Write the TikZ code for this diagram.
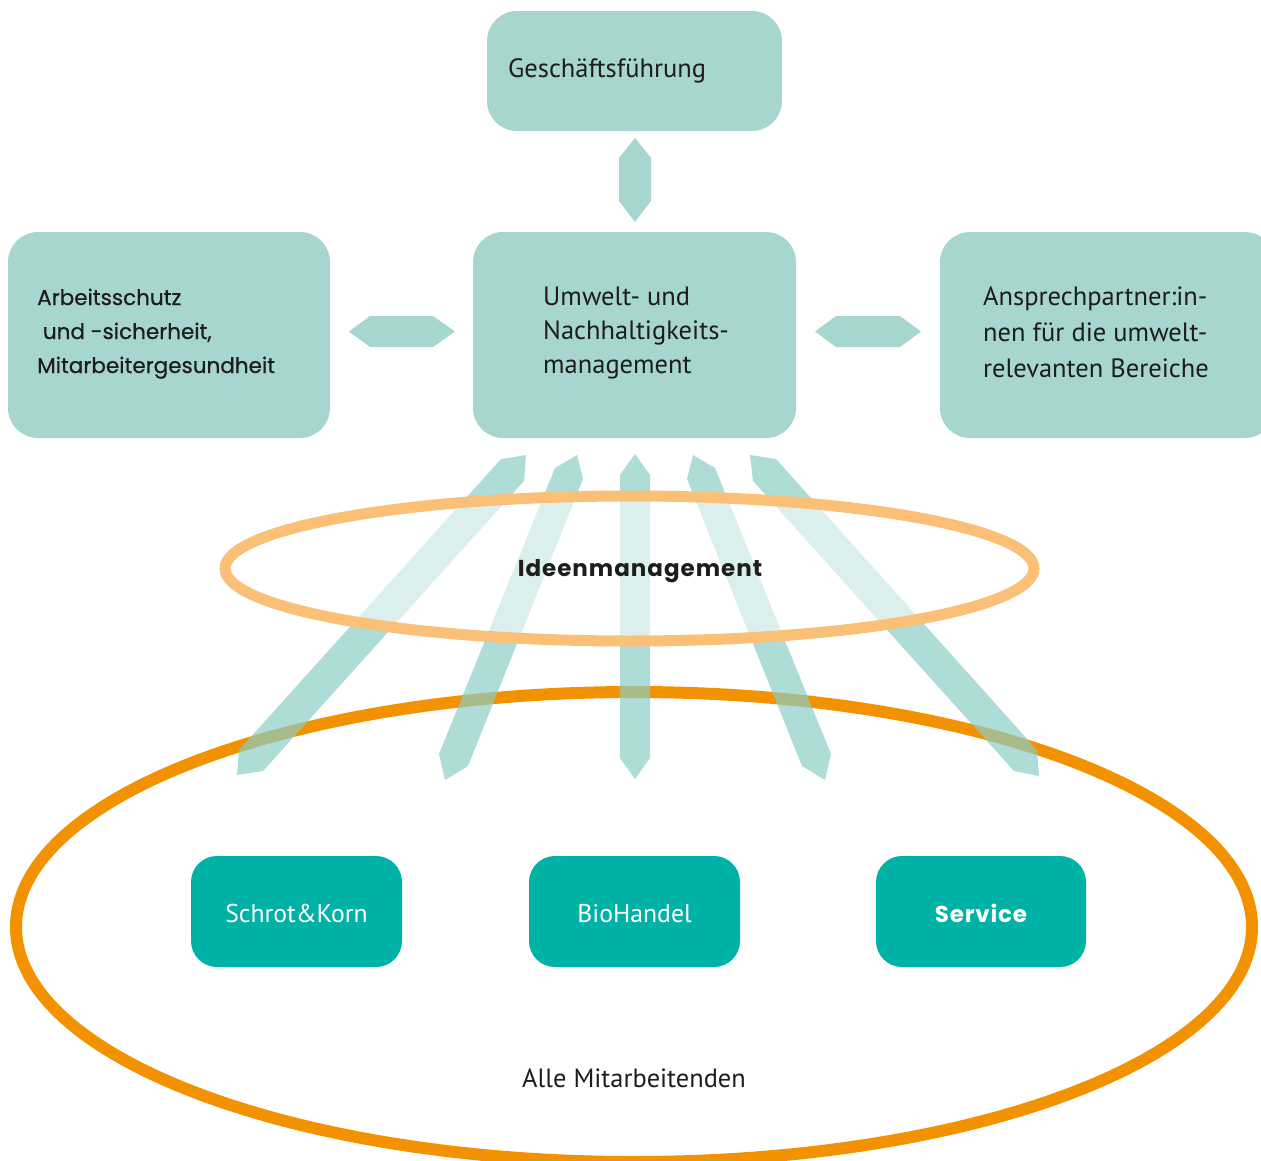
\documentclass[tikz,border=0pt]{standalone}
\usepackage{fontspec}
\setmainfont{PT Sans}
\newfontfamily\geo{Poppins}
\newfontfamily\geomed[FakeBold=0.6]{Poppins}
\definecolor{boxc}{RGB}{166,214,207}
\definecolor{arrc}{RGB}{139,205,196}
\definecolor{tealc}{RGB}{0,177,165}
\definecolor{txtc}{RGB}{29,29,27}
\definecolor{lorange}{RGB}{251,192,120}
\definecolor{dorange}{RGB}{243,146,0}
\tikzset{
  box/.style={fill=boxc, rounded corners=30pt},
  tbox/.style={fill=tealc, rounded corners=26pt},
  lbl/.style={text=txtc, anchor=base west, inner sep=0pt, align=left, font=\fontsize{26.5}{34}\selectfont},
  geolbl/.style={text=txtc, anchor=base west, inner sep=0pt, align=left, font=\geomed\fontsize{21.5}{34}\selectfont},
  arrowshape/.style={fill=boxc},
  uparrow/.style={fill=arrc, fill opacity=0.7},
  wlbl/.style={text=white, inner sep=0pt, anchor=base, font=\fontsize{25.7}{28}\selectfont},
}
\begin{document}
\begin{tikzpicture}[x=1pt,y=-1pt]
\useasboundingbox (0,0) rectangle (1261,1160);
\clip (0,0) rectangle (1261,1160);
% boxes
\fill[box] (487,11) rectangle (782,131);
\fill[box] (473,232) rectangle (796,438);
\fill[box] (8,232) rectangle (330,438);
\fill[box] (940,232) rectangle (1275,438);
\node[lbl] (gft) at (508,77) {Geschäftsführung};
\node[lbl] (umt) at (543,373) {Umwelt- und\\Nachhaltigkeits-\\management};
\node[geolbl] (ast) at (37,373) {Arbeitsschutz\\\ und -sicherheit,\\Mitarbeitergesundheit};
\node[lbl, font=\fontsize{26.5}{36}\selectfont] (apt) at (983,377) {Ansprechpartner:in-\\nen für die umwelt-\\relevanten Bereiche};
% small connector arrows
\fill[arrowshape] (635,138) -- (651,158) -- (651,201) -- (635,222) -- (619,201) -- (619,158) -- cycle;
\fill[arrowshape] (349,331.5) -- (370,316) -- (433,316) -- (455,331.5) -- (433,347) -- (370,347) -- cycle;
\fill[arrowshape] (815,331.5) -- (836,316) -- (900,316) -- (921,331.5) -- (900,347) -- (836,347) -- cycle;
% big ellipse
\draw[dorange, line width=12pt] (634,927) ellipse [x radius=618, y radius=235];
% upward arrows
\fill[uparrow] (501,459) -- (526,455) -- (524,481) -- (263,771) -- (237,775) -- (239,750) -- cycle;
\fill[uparrow] (555,468) -- (577,455) -- (583,479) -- (468,766) -- (445,780) -- (439,754) -- cycle;
\fill[uparrow] (635,454) -- (650,475) -- (650,758) -- (635,779) -- (620,758) -- (620,475) -- cycle;
\fill[uparrow] (715,468) -- (693,455) -- (687,479) -- (802,766) -- (825,780) -- (831,754) -- cycle;
\fill[uparrow] (776,459) -- (750,455) -- (753,481) -- (1014,771) -- (1039,776) -- (1037,750) -- cycle;
% idea ellipse
\path[fill=white, fill opacity=0.57, draw=lorange, draw opacity=1, line width=11pt] (629.5,568.5) ellipse [x radius=404.5, y radius=72.5];
\node[text=txtc, inner sep=0pt, anchor=base, font=\geo\bfseries\fontsize{23}{24}\selectfont] (idm) at (640,576) {I\kern1pt d\kern1pt e\kern1pt e\kern1pt n\kern1pt m\kern1pt a\kern1pt n\kern1pt a\kern1pt g\kern1pt e\kern1pt m\kern1pt e\kern1pt n\kern1pt t};
% teal boxes
\fill[tbox] (191,856) rectangle (402,967);
\fill[tbox] (529,856) rectangle (740,967);
\fill[tbox] (876,856) rectangle (1086,967);
\node[wlbl] (sk) at (296.5,922) {Schrot\&Korn};
\node[wlbl] (bh) at (634.5,922) {BioHandel};
\node[wlbl, font=\geo\bfseries\fontsize{23}{28}\selectfont] (sv) at (981,922) {S\kern0.8pt e\kern0.8pt r\kern0.8pt v\kern0.8pt i\kern0.8pt c\kern0.8pt e};
\node[text=txtc, inner sep=0pt, anchor=base, font=\fontsize{26.4}{28}\selectfont] (am) at (634,1087) {Alle Mitarbeitenden};
\end{tikzpicture}
\end{document}
